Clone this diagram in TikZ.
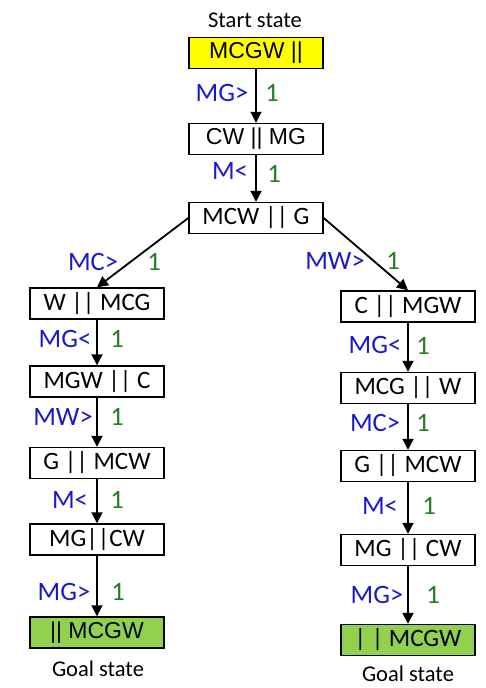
\documentclass[tikz,border=0pt]{standalone}
\usepackage{fontspec}
\setmainfont{Carlito}
\newfontfamily\arialfont{Liberation Sans}
\usetikzlibrary{arrows.meta}
\definecolor{startyellow}{RGB}{255,255,0}
\definecolor{goalgreen}{RGB}{146,208,80}
\definecolor{moveblue}{RGB}{25,25,205}
\definecolor{costgreen}{RGB}{35,125,35}

\begin{document}
\begin{tikzpicture}[x=1pt,y=-1pt,
    state/.style={draw,line width=1.4pt,fill=white,minimum width=134pt,minimum height=31pt,inner sep=0pt,font=\fontsize{25}{25}\selectfont},
    arialstate/.style={state,font=\arialfont\fontsize{23}{23}\selectfont},
    move/.style={text=moveblue,inner sep=0pt,font=\fontsize{26.5}{26.5}\selectfont},
    cost/.style={text=costgreen,inner sep=0pt,font=\fontsize{26.5}{26.5}\selectfont},
    caption/.style={inner sep=0pt,font=\fontsize{22.5}{22.5}\selectfont},
    arr/.style={line width=1.8pt,-{Triangle[length=11pt,width=11pt]}}]

    \useasboundingbox (0,0) rectangle (485,688);

    %%%%%%%%%%%%%%%%%%% Top %%%%%%%%%%%%%%%%%%%%%%%%%%%%%%%
    \node [caption] (startcap) at (255,20) {Start state};
    \node [arialstate,fill=startyellow] (start) at (256,53) {MCGW ||};
    \node [arialstate] (cwmg) at (256,139) {CW || MG};
    \node [state] (mcwg) at (256,218) {MCW || G};

    %%%%%%%%%%%%%%%%%%% Left %%%%%%%%%%%%%%%%%%%%%%%%%%%%%%%
    \node [state] (wmcg) at (97,303.5) {W || MCG};
    \node [state] (mgwc) at (97,381.5) {MGW || C};
    \node [state] (gmcwl) at (97,463) {G || MCW};
    \node [state] (mgcwl) at (97,539.5) {MG||CW};
    \node [arialstate,fill=goalgreen] (goall) at (97,632.5) {|| MCGW};
    \node [caption] (goalcapl) at (98,669) {Goal state};

    %%%%%%%%%%%%%%%%%%% Right %%%%%%%%%%%%%%%%%%%%%%%%%%%%%%
    \node [state] (cmgw) at (408,306.5) {C || MGW};
    \node [state] (mcgw) at (408,388) {MCG || W};
    \node [state] (gmcwr) at (408,466) {G || MCW};
    \node [state] (mgcwr) at (408,550) {MG || CW};
    \node [state,fill=goalgreen] (goalr) at (408,640) {| | MCGW};
    \node [caption] (goalcapr) at (408,674) {Goal state};

    % Moves
    \draw [arr] (start) -- (cwmg);
    \draw [arr] (cwmg) -- (mcwg);
    \draw [arr] (mcwg.west) -- (wmcg.north);
    \draw [arr] (mcwg.east) -- (cmgw.north);
    \foreach \a/\b in {wmcg/mgwc,mgwc/gmcwl,gmcwl/mgcwl,mgcwl/goall,cmgw/mcgw,mcgw/gmcwr,gmcwr/mgcwr,mgcwr/goalr}
        \draw [arr] (\a) -- (\b);

    % Labels
    \node [move] (m1) at (222,93) {MG>};   \node [cost] (c1) at (272,93) {1};
    \node [move] (m2) at (230,171) {M<};   \node [cost] (c2) at (274,174) {1};
    \node [move] (m3) at (93,262) {MC>};   \node [cost] (c3) at (154,262) {1};
    \node [move] (m4) at (335,261) {MW>};  \node [cost] (c4) at (393,261) {1};
    \node [move] (m5) at (65,339) {MG<};   \node [cost] (c5) at (117,339) {1};
    \node [move] (m6) at (63,417) {MW>};   \node [cost] (c6) at (117,417) {1};
    \node [move] (m7) at (70,500) {M<};    \node [cost] (c7) at (117,500) {1};
    \node [move] (m8) at (64,592) {MG>};   \node [cost] (c8) at (118,592) {1};
    \node [move] (m9) at (375,345) {MG<};  \node [cost] (c9) at (423,346) {1};
    \node [move] (m10) at (375,423) {MC>}; \node [cost] (c10) at (423,423) {1};
    \node [move] (m11) at (380,506) {M<};  \node [cost] (c11) at (429,506) {1};
    \node [move] (m12) at (377,595) {MG>}; \node [cost] (c12) at (433,595) {1};

\end{tikzpicture}
\end{document}
